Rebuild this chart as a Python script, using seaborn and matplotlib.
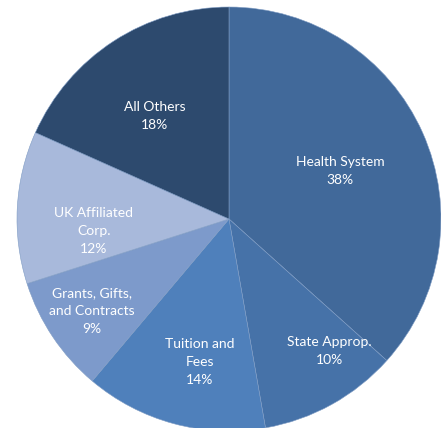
import numpy as np
import matplotlib.pyplot as plt
import seaborn as sns

labels = ["Health System", "State Approp.", "Tuition and\nFees", "Grants, Gifts,\nand Contracts",
          "UK Affiliated\nCorp.", "All Others"]
# wedge sizes as drawn in the picture (%), and the percentages printed on it
shares = [36.6, 10.6, 13.9, 8.9, 11.6, 18.3]
printed = [38, 10, 14, 9, 12, 18]
colors = ["#41699a", "#4672a8", "#4f80bb", "#7d9acb", "#a8b9db", "#2d4a6e"]

sns.set_style("white")
plt.rcParams["font.family"] = ["Lato", "DejaVu Sans"]

fig = plt.figure(figsize=(4.41, 4.28), dpi=100)
ax = fig.add_axes([0, 0, 1, 1])

R = 212.0
cx, cy = 229.0, 219.0
wedges, _ = ax.pie(shares, colors=colors, startangle=90, counterclock=False, radius=1,
                   wedgeprops=dict(edgecolor="#7f9cc4", linewidth=0.4))

# label placement per wedge: distance (fraction of radius), angle nudge (deg)
dists = [0.57, 0.78, 0.69, 0.78, 0.64, 0.60]
nudge = [-0.8, 8.3, 3.7, 0.0, 8.2, 2.8]
for w, lab, p, d, n in zip(wedges, labels, printed, dists, nudge):
    ang = np.deg2rad((w.theta1 + w.theta2) / 2 + n)
    ax.text(d * np.cos(ang), d * np.sin(ang), f"{lab}\n{p}%", ha="center", va="center",
            color="white", fontsize=10, linespacing=1.6)

ax.set_xlim(-cx / R, (441 - cx) / R)
ax.set_ylim(-(428 - cy) / R, cy / R)
ax.set_aspect("equal")
ax.axis("off")
fig.savefig("out.png", dpi=100)
